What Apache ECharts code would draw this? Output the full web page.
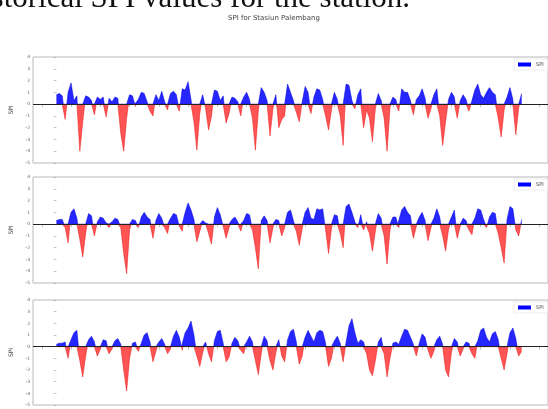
<!DOCTYPE html>
<html>
<head>
<meta charset="utf-8">
<script src="https://cdn.jsdelivr.net/npm/echarts@6/dist/echarts.min.js"></script>
<style>html,body{margin:0;padding:0;background:#fff;}#c{width:548px;height:409px;}</style>
</head>
<body>
<div id="c"></div>
<script>
// Sample spacing (months) between consecutive values
const STEP = 3;
const yTicks = [-5, -4, -3, -2, -1, 0, 1, 2, 3, 4];
const xTickValues = [-15, 15, 45, 75, 105, 135, 165, 195, 225, 255, 285, 315, 345, 375, 405, 435, 465, 495];

const spiPanel1 = [
 0.8,0.9,0.7,-1.3,1.0,1.8,0.3,0.7,-4.0,-1.5,0.7,0.6,0.3,-0.9,0.6,0.4,0.6,-1.1,0.5,0.2,
 0.6,0.5,-2.5,-4.0,-1.2,0.8,0.7,-0.2,0.4,1.0,0.9,0.2,-0.6,-1.0,0.8,0.3,1.1,0.2,-0.5,0.9,
 1.1,0.8,-0.6,1.3,1.2,1.9,0.4,-1.5,-3.9,-0.8,0.8,-0.4,-2.2,-1.0,1.2,1.1,0.3,0.7,-1.6,-0.8,
 0.6,0.5,0.2,-1.0,0.6,1.0,0.4,-1.2,-3.9,-0.6,1.4,1.0,0.3,-2.7,-0.4,0.8,-2.0,-1.3,-1.0,1.7,
 1.0,0.3,-0.7,-1.5,0.2,1.5,1.0,-0.8,0.6,1.3,1.2,0.4,-1.0,-2.2,-0.5,1.0,0.4,-1.0,-3.5,1.7,
 1.6,0.3,-0.4,0.8,1.3,-2.0,-0.5,-1.2,-3.2,-0.4,0.9,0.3,-1.2,-4.0,-0.3,0.6,0.4,-0.6,1.3,1.0,
 1.0,0.3,-0.9,0.4,0.7,1.3,0.5,-1.2,-0.4,0.8,1.3,-1.0,-3.5,-1.5,0.4,1.0,0.6,-1.2,0.3,0.8,
 0.4,-0.6,0.3,1.2,1.7,0.8,0.5,1.0,1.4,1.0,0.8,-1.2,-2.8,-0.5,0.6,1.4,0.4,-2.6,-0.3,0.9
];
const spiPanel2 = [
 0.3,0.4,0.4,-0.3,-1.6,1.0,1.3,0.5,-1.3,-2.8,-0.8,0.9,0.7,-1.0,0.2,0.6,0.5,0.1,-0.3,0.2,
 0.5,0.4,-0.3,-2.5,-4.2,-0.5,0.4,0.3,-0.3,0.6,1.0,0.6,0.4,-1.2,0.3,0.9,0.5,-0.3,-0.8,0.5,
 0.9,0.8,-0.2,-0.6,1.0,1.8,1.2,0.4,-1.5,-0.6,0.3,0.1,-0.8,-1.7,0.6,1.4,0.8,-0.2,-1.2,-0.3,
 0.4,0.6,0.2,-0.6,0.3,0.9,0.8,-0.5,-2.0,-3.8,0.3,0.7,0.3,-1.6,-0.3,0.4,0.3,-1.0,-0.3,1.0,
 1.2,0.3,-0.6,-1.8,-0.4,1.0,1.4,0.5,0.4,1.3,1.2,1.3,-0.5,-2.5,-0.4,0.8,0.7,-0.8,-2.0,1.5,
 1.7,1.0,0.2,-0.3,0.8,-0.5,0.2,-0.8,-2.3,-0.6,0.9,0.5,-1.0,-3.4,-0.5,0.6,0.6,-0.3,1.2,1.5,
 1.0,0.7,-1.2,-0.2,0.6,1.0,0.3,-1.4,-0.3,0.5,1.3,0.6,-1.0,-2.3,-0.5,0.6,1.2,-1.2,-0.2,0.5,
 0.3,-0.5,-0.9,0.5,1.3,1.2,0.4,-0.3,0.6,1.0,0.9,-0.8,-2.0,-3.3,0.4,1.5,1.3,-0.5,-1.0,0.4
];
const spiPanel3 = [
 0.2,0.3,0.3,0.4,-1.0,0.6,1.2,1.4,-1.2,-2.6,-0.8,0.6,0.9,0.4,-0.8,-0.2,0.6,0.5,-0.6,-0.2,
 0.5,0.7,0.2,-2.0,-3.8,-1.0,0.3,0.4,-0.4,0.3,1.0,1.2,0.4,-1.3,-0.4,0.4,0.7,0.2,-0.6,-0.2,
 0.9,1.4,0.8,-0.3,1.2,1.6,2.2,1.0,-0.8,-1.7,-0.5,0.4,-0.6,-1.3,0.5,1.3,1.4,0.3,-1.3,-0.9,
 0.3,0.8,0.5,-0.3,-0.6,0.4,0.9,0.4,-1.2,-2.4,-0.6,0.9,0.5,-1.2,-2.0,-0.5,0.6,-0.8,-1.3,0.6,
 1.3,1.5,0.4,-1.5,-0.8,0.8,1.4,0.9,0.4,1.2,1.4,1.3,0.3,-1.7,-1.0,0.5,0.9,0.3,-1.3,0.4,
 1.8,2.4,1.2,0.3,0.6,0.4,-0.6,-2.0,-2.5,-1.2,0.4,0.8,-0.6,-2.6,-1.0,0.3,0.4,0.2,0.9,1.5,
 1.4,0.8,0.2,-0.8,0.3,1.1,0.8,-0.3,-1.0,-0.4,0.6,0.9,0.2,-2.0,-2.6,-0.5,0.7,0.4,-0.8,-0.2,
 0.4,0.3,-0.6,-1.0,0.5,1.4,1.6,0.8,0.4,1.1,1.3,0.6,-1.0,-2.0,-0.6,1.2,1.6,0.7,-0.8,-0.4
];

const panels = [spiPanel1, spiPanel2, spiPanel3];
const gridTops = [57, 177, 300];
const gridHeights = [106, 106, 105];

function split(vals) {
  const pos = [], neg = [];
  for (let i = 0; i < vals.length; i++) {
    const x = i * STEP, v = vals[i];
    if (i > 0) {
      const pv = vals[i - 1], px = (i - 1) * STEP;
      if ((pv > 0 && v < 0) || (pv < 0 && v > 0)) {
        const xc = px + (0 - pv) / (v - pv) * STEP;
        pos.push([xc, 0]); neg.push([xc, 0]);
      }
    }
    pos.push([x, Math.max(v, 0)]);
    neg.push([x, Math.min(v, 0)]);
  }
  return { pos, neg };
}

const grids = [], xAxes = [], yAxes = [], series = [], legends = [];
panels.forEach((vals, k) => {
  grids.push({ left: 33, top: gridTops[k], width: 528, height: gridHeights[k], show: true,
    borderColor: '#b8b8b8', borderWidth: 1, backgroundColor: 'transparent' });
  xAxes.push({ type: 'value', gridIndex: k, min: -24, max: 504,
    axisLine: { show: false }, splitLine: { show: false },
    axisTick: { show: true, customValues: xTickValues, length: 3, lineStyle: { color: '#999', width: 0.6 } },
    axisLabel: { show: false } });
  yAxes.push({ type: 'value', gridIndex: k, min: -5, max: 4, interval: 1,
    name: 'SPI', nameLocation: 'middle', nameGap: 16, nameRotate: 90,
    nameTextStyle: { fontSize: 6, color: '#444', fontFamily: 'DejaVu Sans' },
    axisLine: { show: false }, splitLine: { show: false },
    axisTick: { show: true, length: 2.5, lineStyle: { color: '#999', width: 0.6 } },
    axisLabel: { fontSize: 4.5, color: '#666', margin: 3, fontFamily: 'DejaVu Sans' } });
  const s = split(vals);
  series.push({ name: 'SPI', type: 'line', xAxisIndex: k, yAxisIndex: k, data: s.pos,
    showSymbol: false, symbol: 'none', color: '#0000ff',
    lineStyle: { color: '#0000dd', width: 0.5 }, areaStyle: { color: '#0000ff', opacity: 0.85 },
    animation: false, z: 3,
    markLine: { silent: true, symbol: 'none', label: { show: false },
      lineStyle: { color: '#222', width: 1, type: 'solid' }, data: [{ yAxis: 0 }], animation: false } });
  series.push({ name: 'SPI negative', type: 'line', xAxisIndex: k, yAxisIndex: k, data: s.neg,
    showSymbol: false, symbol: 'none', color: '#ff0000',
    lineStyle: { color: '#e81010', width: 0.5 }, areaStyle: { color: '#ff2424', opacity: 0.78 },
    animation: false, z: 2 });
  legends.push({ data: ['SPI'], left: 514, top: gridTops[k] + 2, orient: 'vertical',
    icon: 'rect', itemWidth: 13, itemHeight: 4, itemGap: 2, padding: [3, 4, 3, 4],
    backgroundColor: '#fff', borderColor: '#e0e0e0', borderWidth: 0.6,
    textStyle: { fontSize: 5, color: '#444', fontFamily: 'DejaVu Sans' }, selectedMode: false });
});

const chart = echarts.init(document.getElementById('c'), null, { renderer: 'canvas' });
chart.setOption({
  animation: false,
  backgroundColor: '#fff',
  title: { text: 'SPI for Stasiun Palembang', left: 'center', top: 10,
    textStyle: { fontSize: 7, fontWeight: 'normal', color: '#444', fontFamily: 'DejaVu Sans' } },
  graphic: [{ type: 'text', style: { text: 'historical SPI values for the station.', x: 410, y: 14,
    align: 'right', verticalAlign: 'bottom', fontSize: 31, fontFamily: 'Liberation Serif', fill: '#111' } }],
  grid: grids, xAxis: xAxes, yAxis: yAxes, series: series, legend: legends
});
</script>
</body>
</html>
